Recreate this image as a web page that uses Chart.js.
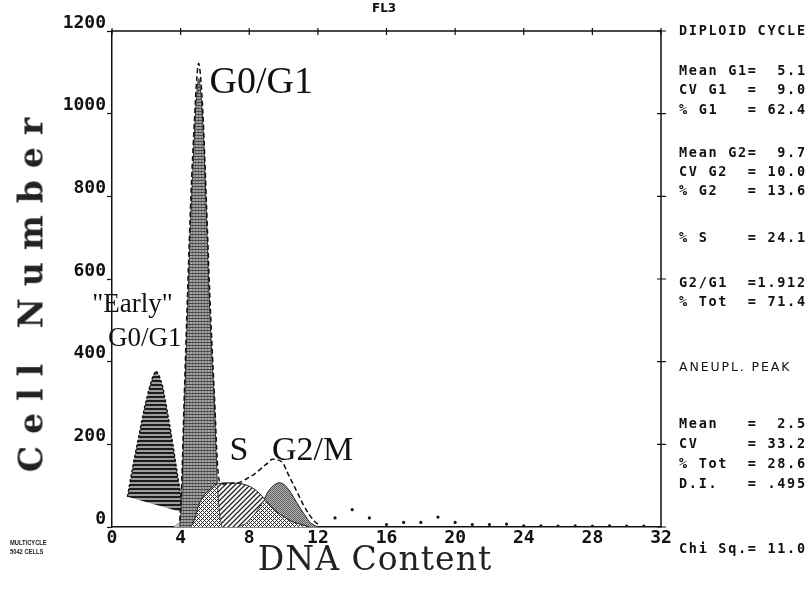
<!DOCTYPE html>
<html>
<head>
<meta charset="utf-8">
<title>DNA content histogram - MULTICYCLE</title>
<script src="https://cdn.jsdelivr.net/npm/chart.js@4.4.1/dist/chart.umd.min.js"></script>
<style>
  body { margin: 0; background: #fff; }
  #wrap { position: relative; width: 809px; height: 589px; overflow: hidden; background: #fff; }
  #chart { position: absolute; left: 0; top: 0; }
  .stat { position: absolute; left: 679px; font: bold 13.5px "DejaVu Sans Mono", monospace; letter-spacing: 1.7px; white-space: pre; line-height: 18px; color: #111; }
  .plain { font: 12.5px "DejaVu Sans", sans-serif; letter-spacing: 1.9px; }
  .fl3 { position: absolute; left: 372px; top: 1px; font: bold 12px "DejaVu Sans", sans-serif; color: #111; }
  .ytitle { position: absolute; left: 31px; top: 289px; transform: translate(-50%, -50%) rotate(-90deg); font: bold 33px "DejaVu Serif", serif; letter-spacing: 12px; white-space: nowrap; color: #222; }
  .xtitle { position: absolute; left: 375px; top: 558px; transform: translate(-50%, -50%); font: 33px "DejaVu Serif", serif; letter-spacing: 1px; white-space: nowrap; color: #222; }
  .foot { position: absolute; left: 10px; top: 538px; font: bold 8px "Liberation Sans", sans-serif; line-height: 9px; transform: scaleX(0.72); transform-origin: left top; color: #222; }
</style>
</head>
<body>
<div id="wrap">
  <canvas id="chart" width="809" height="589"></canvas>
  <div class="fl3">FL3</div>
  <div class="ytitle">Cell Number</div>
  <div class="xtitle">DNA Content</div>
  <div class="foot">MULTICYCLE<br>5042 CELLS</div>

  <div class="stat" style="top:21px">DIPLOID CYCLE</div>
  <div class="stat" style="top:61px">Mean G1=  5.1</div>
  <div class="stat" style="top:80px">CV G1  =  9.0</div>
  <div class="stat" style="top:100px">% G1   = 62.4</div>
  <div class="stat" style="top:143px">Mean G2=  9.7</div>
  <div class="stat" style="top:162px">CV G2  = 10.0</div>
  <div class="stat" style="top:181px">% G2   = 13.6</div>
  <div class="stat" style="top:228px">% S    = 24.1</div>
  <div class="stat" style="top:273px">G2/G1  =1.912</div>
  <div class="stat" style="top:292px">% Tot  = 71.4</div>
  <div class="stat plain" style="top:359px">ANEUPL. PEAK</div>
  <div class="stat" style="top:414px">Mean   =  2.5</div>
  <div class="stat" style="top:434px">CV     = 33.2</div>
  <div class="stat" style="top:454px">% Tot  = 28.6</div>
  <div class="stat" style="top:474px">D.I.   = .495</div>
  <div class="stat" style="top:539px">Chi Sq.= 11.0</div>
</div>

<script>
// --- values (x = DNA content, y = cell number) ---

// aneuploid "early" G0/G1 peak
const earlyX = [0.9, 1.25, 1.6, 1.9, 2.2, 2.4, 2.57, 2.75, 2.96, 3.2, 3.44, 3.65, 3.83, 4.0, 4.12, 4.3];
const earlyY = [73, 155, 227, 290, 340, 366, 378, 366, 339, 285, 227, 172, 122, 80, 49, 33];

// small debris bump under the two G1 peaks
const debrisX = [3.6, 3.9, 4.3, 4.7, 5.0];
const debrisY = [0, 10, 16, 8, 0];

// diploid G0/G1 peak
const g1X = [3.95, 4.05, 4.22, 4.42, 4.6, 4.71, 4.85, 5.0, 5.07, 5.15, 5.33, 5.5, 5.68, 5.85, 5.97, 6.05, 6.15, 6.25, 6.4];
const g1Y = [0, 60, 290, 540, 760, 860, 990, 1075, 1085, 1060, 950, 760, 540, 390, 300, 200, 95, 40, 0];

// S phase
const sX = [4.6, 4.8, 5.1, 5.4, 5.68, 6.07, 6.4, 6.66, 7.2, 7.63, 8.21, 8.7, 9.09, 9.5, 10.0, 10.5, 11.1, 11.5];
const sY = [0, 17, 57, 78, 89, 103, 106, 107, 106, 104, 94, 77, 57, 40, 25, 13, 5, 0];

// G2/M peak
const g2X = [7.3, 7.8, 8.3, 8.8, 9.09, 9.4, 9.77, 10.1, 10.45, 10.75, 11.04, 11.3, 11.5, 11.8, 12.0];
const g2Y = [0, 8, 30, 62, 85, 100, 107, 100, 81, 60, 41, 25, 13, 4, 0];

// cross-hatched areas where S overlaps G1 and G2
const overlapLX = [4.6, 4.8, 5.1, 5.4, 5.68, 6.07, 6.15, 6.25, 6.4];
const overlapLY = [0, 17, 57, 78, 89, 103, 95, 40, 0];
const overlapRX = [7.3, 7.8, 8.3, 8.93, 9.09, 9.5, 10.0, 10.5, 11.1, 11.5];
const overlapRY = [0, 8, 30, 67, 57, 40, 25, 13, 5, 0];

// dashed envelope (total fit)
const envX = [3.95, 4.05, 4.2, 4.4, 4.6, 4.8, 4.95, 5.05, 5.15, 5.3, 5.5, 5.7, 5.85, 6.0, 6.1, 6.2, 6.35, 6.6, 7.0, 7.45, 7.9, 8.3, 8.7, 9.0, 9.35, 9.6, 9.95, 10.3, 10.7, 11.1, 11.5, 11.8, 12.1];
const envY = [15, 90, 300, 560, 800, 980, 1090, 1122, 1095, 1000, 790, 560, 420, 290, 190, 125, 106, 104, 106, 108, 118, 128, 142, 152, 164, 163, 155, 125, 92, 58, 30, 14, 4];

// raw channel counts past the fitted region
const dotsX = [13, 14, 15, 16, 17, 18, 19, 20, 21, 22, 23, 24, 25, 26, 27, 28, 29, 30, 31];
const dotsY = [22, 42, 22, 6, 11, 11, 24, 11, 6, 6, 7, 3, 3, 2, 3, 2, 3, 2, 2];

// axis ticks
const xTicks = [0, 4, 8, 12, 16, 20, 24, 28, 32];
const yTicks = [0, 200, 400, 600, 800, 1000, 1200];

// phase labels placed in data coordinates
const phaseLabels = [
  { text: 'G0/G1', x: 5.69, y: 1050, size: 38 },
  { text: '"Early"', x: -1.15, y: 520, size: 27 },
  { text: 'G0/G1', x: -0.23, y: 438, size: 27 },
  { text: 'S', x: 6.85, y: 162, size: 34 },
  { text: 'G2/M', x: 9.33, y: 162, size: 34 }
];

const pts = (xs, ys) => xs.map((x, i) => ({ x, y: ys[i] }));

const canvas = document.getElementById('chart');
const mainCtx = canvas.getContext('2d');

function makePattern(size, draw) {
  const c = document.createElement('canvas');
  c.width = size;
  c.height = size;
  draw(c.getContext('2d'), size);
  return mainCtx.createPattern(c, 'repeat');
}

// horizontal stripes for the early peak
const stripePattern = makePattern(4, (g) => {
  g.fillStyle = '#9c9c9c'; g.fillRect(0, 0, 4, 4);
  g.fillStyle = '#1c1c1c'; g.fillRect(0, 0, 4, 2);
});

// fine grey grid for G0/G1
const gridPattern = makePattern(3, (g) => {
  g.fillStyle = '#a2a2a2'; g.fillRect(0, 0, 3, 3);
  g.fillStyle = '#4a4a4a'; g.fillRect(0, 0, 3, 1);
  g.fillStyle = '#7a7a7a'; g.fillRect(0, 1, 1, 2);
});

// diagonal hatch for S
const diagPattern = makePattern(5, (g) => {
  g.fillStyle = '#fff'; g.fillRect(0, 0, 5, 5);
  g.strokeStyle = '#222'; g.lineWidth = 1.3;
  g.beginPath();
  g.moveTo(-1, 6); g.lineTo(6, -1);
  g.moveTo(-1, 1); g.lineTo(1, -1);
  g.moveTo(4, 6); g.lineTo(6, 4);
  g.stroke();
});

// grey stipple for G2/M
const stipplePattern = makePattern(2, (g) => {
  g.fillStyle = '#b4b4b4'; g.fillRect(0, 0, 2, 2);
  g.fillStyle = '#5e5e5e'; g.fillRect(0, 0, 1, 1); g.fillRect(1, 1, 1, 1);
});

// cross hatch for overlaps
const crossPattern = makePattern(4, (g) => {
  g.fillStyle = '#fff'; g.fillRect(0, 0, 4, 4);
  g.fillStyle = '#2a2a2a';
  [[0, 0], [1, 1], [2, 2], [3, 3], [3, 1], [1, 3]].forEach(([a, b]) => g.fillRect(a, b, 1, 1));
});

const framePlugin = {
  id: 'frame',
  afterDraw(chart) {
    const { ctx, chartArea: a, scales: { x, y } } = chart;
    ctx.save();
    ctx.strokeStyle = '#111';
    ctx.lineWidth = 1.5;
    ctx.beginPath();
    ctx.moveTo(a.left, a.top);
    ctx.lineTo(a.right, a.top);
    ctx.lineTo(a.right, a.bottom);
    ctx.stroke();
    ctx.lineWidth = 1.2;
    ctx.beginPath();
    xTicks.forEach(v => {
      const px = x.getPixelForValue(v);
      ctx.moveTo(px, a.top - 3);
      ctx.lineTo(px, a.top + 4);
    });
    yTicks.forEach(v => {
      const py = y.getPixelForValue(v);
      ctx.moveTo(a.right - 4, py);
      ctx.lineTo(a.right + 5, py);
    });
    ctx.stroke();
    ctx.restore();
  }
};

const labelPlugin = {
  id: 'phaseLabels',
  afterDatasetsDraw(chart) {
    const { ctx, scales: { x, y } } = chart;
    ctx.save();
    ctx.fillStyle = '#111';
    ctx.textBaseline = 'alphabetic';
    ctx.textAlign = 'left';
    phaseLabels.forEach(l => {
      ctx.font = l.size + 'px "Liberation Serif", serif';
      ctx.fillText(l.text, x.getPixelForValue(l.x), y.getPixelForValue(l.y));
    });
    ctx.restore();
  }
};

const tickFont = { family: '"DejaVu Sans Mono", monospace', size: 18, weight: 'bold' };

new Chart(canvas, {
  type: 'line',
  data: {
    datasets: [
      {
        label: 'Debris',
        data: pts(debrisX, debrisY),
        backgroundColor: '#c8c8c8',
        borderColor: '#888',
        borderWidth: 0.8,
        fill: 'origin',
        cubicInterpolationMode: 'monotone',
        order: 10
      },
      {
        label: 'Early G0/G1',
        data: pts(earlyX, earlyY),
        backgroundColor: stripePattern,
        borderColor: '#111',
        borderWidth: 1.4,
        borderDash: [3, 2],
        fill: 'shape',
        tension: 0,
        order: 9
      },
      {
        label: 'G0/G1',
        data: pts(g1X, g1Y),
        backgroundColor: gridPattern,
        borderColor: '#333',
        borderWidth: 1,
        fill: 'origin',
        cubicInterpolationMode: 'monotone',
        order: 8
      },
      {
        label: 'G2/M',
        data: pts(g2X, g2Y),
        backgroundColor: stipplePattern,
        borderColor: '#222',
        borderWidth: 1,
        fill: 'origin',
        cubicInterpolationMode: 'monotone',
        order: 7
      },
      {
        label: 'S',
        data: pts(sX, sY),
        backgroundColor: diagPattern,
        borderColor: '#222',
        borderWidth: 1,
        fill: 'origin',
        cubicInterpolationMode: 'monotone',
        order: 6
      },
      {
        label: 'S + G1',
        data: pts(overlapLX, overlapLY),
        backgroundColor: crossPattern,
        borderColor: '#222',
        borderWidth: 0.8,
        fill: 'origin',
        cubicInterpolationMode: 'monotone',
        order: 5
      },
      {
        label: 'S + G2',
        data: pts(overlapRX, overlapRY),
        backgroundColor: crossPattern,
        borderColor: '#222',
        borderWidth: 0.8,
        fill: 'origin',
        tension: 0.2,
        order: 4
      },
      {
        label: 'Fit',
        data: pts(envX, envY),
        borderColor: '#111',
        borderWidth: 1.5,
        borderDash: [5, 3],
        fill: false,
        cubicInterpolationMode: 'monotone',
        order: 2
      },
      {
        label: 'Counts',
        data: pts(dotsX, dotsY),
        showLine: false,
        pointRadius: 1.6,
        pointBackgroundColor: '#111',
        pointBorderWidth: 0,
        order: 1
      }
    ]
  },
  options: {
    responsive: false,
    animation: false,
    layout: { padding: { left: 0, right: 148, top: 31, bottom: 0 } },
    elements: { point: { radius: 0 } },
    plugins: {
      legend: { display: false },
      tooltip: { enabled: false }
    },
    scales: {
      x: {
        type: 'linear',
        min: 0,
        max: 32,
        afterFit: (s) => { s.height = 62; },
        afterBuildTicks: (s) => { s.ticks = xTicks.map(v => ({ value: v })); },
        ticks: { font: tickFont, color: '#111', padding: 1, maxRotation: 0, autoSkip: false, callback: (v) => String(v) },
        grid: { drawOnChartArea: false, drawTicks: false },
        border: { color: '#111', width: 1.5 }
      },
      y: {
        min: 0,
        max: 1200,
        afterFit: (s) => { s.width = 112; },
        afterBuildTicks: (s) => { s.ticks = yTicks.map(v => ({ value: v })); },
        ticks: { font: tickFont, color: '#111', padding: 1, labelOffset: -8, callback: (v) => String(v) },
        grid: { drawOnChartArea: false, tickLength: 5, color: '#111', tickWidth: 1.2 },
        border: { color: '#111', width: 1.5 }
      }
    }
  },
  plugins: [framePlugin, labelPlugin]
});
</script>
</body>
</html>
